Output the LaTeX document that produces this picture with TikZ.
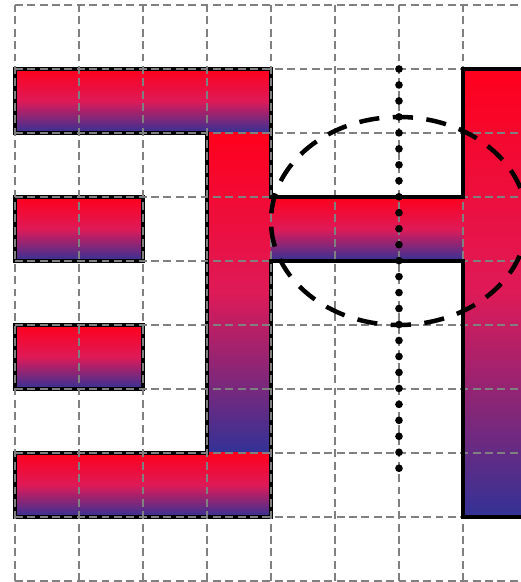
\documentclass[tikz,border=0pt]{standalone}
\usepackage{tikz}
\definecolor{barTop}{RGB}{255,0,28}
\definecolor{barMid}{RGB}{222,26,88}
\definecolor{barBot}{RGB}{50,50,150}
\definecolor{gridGray}{RGB}{128,128,128}
\tikzset{
  barfill/.style={top color=barTop, bottom color=barBot, middle color=barMid},
  outline/.style={draw=black, line width=1.7pt, line join=miter, line cap=rect},
  gridline/.style={draw=gridGray, line width=0.6pt, dash pattern=on 3.5pt off 2pt},
  ovalline/.style={draw=black, line width=2pt, dash pattern=on 9pt off 6pt},
  dotline/.style={draw=black, line width=3.4pt, line cap=round, dash pattern=on 0pt off 7.1pt}
}
\begin{document}
\begin{tikzpicture}
\useasboundingbox (-0.234,-0.0156) rectangle (7.906,9.078);
\clip (-0.234,-0.0156) rectangle (7.906,9.078);
% E fills
\shade[barfill] (0,7) rectangle (4,8);
\shade[barfill] (3,2) rectangle (4,7);
\shade[barfill] (0,1) rectangle (4,2);
\shade[barfill] (0,5) rectangle (2,6);
\shade[barfill] (0,3) rectangle (2,4);
% H fills
\shade[barfill] (4,5) rectangle (7,6);
\shade[barfill] (7,1) rectangle (8,8);
% E outlines
\draw[outline] (4,6) -- (4,8) -- (0,8) -- (0,7) -- (3,7) -- (3,2) -- (0,2) -- (0,1) -- (4,1) -- (4,5);
\draw[outline] (0,5) rectangle (2,6);
\draw[outline] (0,3) rectangle (2,4);
% grid
\draw[gridline] (0,0) grid (8,9);
% H outline
\draw[outline] (4,6) -- (7,6) -- (7,8) -- (8,8) -- (8,1) -- (7,1) -- (7,5) -- (4,5);
% ellipse
\draw[ovalline] (6,5.625) ellipse [x radius=2, y radius=1.625];
% dotted axis
\draw[dotline] (6,8) -- (6,1.75);
\end{tikzpicture}
\end{document}
